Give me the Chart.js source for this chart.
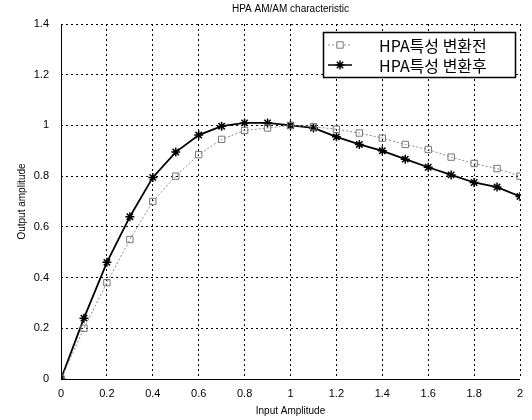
<!DOCTYPE html>
<html>
<head>
<meta charset="utf-8">
<script src="https://cdn.jsdelivr.net/npm/chart.js@4.4.0/dist/chart.umd.min.js"></script>
<style>
  html, body { margin: 0; background: #fff; overflow: hidden; }
  #wrap { width: 532px; height: 420px; }
  canvas { display: block; }
</style>
</head>
<body>
<div id="wrap"><canvas id="Chart1"></canvas></div>
<script>
var inputAmp = [0, 0.1, 0.2, 0.3, 0.4, 0.5, 0.6, 0.7, 0.8, 0.9, 1.0, 1.1, 1.2, 1.3, 1.4, 1.5, 1.6, 1.7, 1.8, 1.9, 2.0];
var beforeComp = [0, 0.20, 0.38, 0.55, 0.70, 0.80, 0.885, 0.945, 0.98, 0.99, 1.0, 0.995, 0.985, 0.97, 0.95, 0.925, 0.905, 0.875, 0.85, 0.83, 0.80];
var afterComp = [0, 0.24, 0.46, 0.64, 0.795, 0.895, 0.962, 0.997, 1.01, 1.01, 1.0, 0.99, 0.955, 0.925, 0.90, 0.867, 0.835, 0.805, 0.775, 0.757, 0.72];
var seriesNames = ['HPA특성 변환전', 'HPA특성 변환후'];
var chartTitle = 'HPA AM/AM characteristic';

function toPoints(ys) {
    return ys.map(function (y, i) { return { x: inputAmp[i], y: y }; });
}

var frameAndLegend = {
    id: 'frameAndLegend',
    afterDraw: function (chart) {
        var ctx = chart.ctx;
        var a = chart.chartArea;
        ctx.save();
        // solid left and bottom axis lines
        ctx.strokeStyle = '#000';
        ctx.lineWidth = 1;
        ctx.setLineDash([]);
        ctx.beginPath();
        ctx.moveTo(Math.round(a.left) + 0.5, a.top);
        ctx.lineTo(Math.round(a.left) + 0.5, Math.round(a.bottom) + 0.5);
        ctx.lineTo(a.right, Math.round(a.bottom) + 0.5);
        ctx.stroke();

        // title
        ctx.fillStyle = '#000';
        ctx.font = '10px "Liberation Sans", Arial, sans-serif';
        ctx.textAlign = 'center';
        ctx.textBaseline = 'middle';
        ctx.fillText(chartTitle, (a.left + a.right) / 2, 9);

        // legend box inside plot
        var bx = 323, by = 32, bw = 192, bh = 45;
        ctx.fillStyle = '#fff';
        ctx.fillRect(bx, by, bw, bh);
        ctx.lineWidth = 1.5;
        ctx.strokeRect(bx + 0.5, by + 0.5, bw, bh);
        var rows = [45, 65];
        chart.data.datasets.forEach(function (ds, i) {
            var y = rows[i];
            ctx.setLineDash(i === 0 ? [2, 2] : []);
            ctx.strokeStyle = ds.borderColor;
            ctx.lineWidth = i === 0 ? 1 : 1.5;
            ctx.beginPath();
            ctx.moveTo(328, y);
            ctx.lineTo(352, y);
            ctx.stroke();
            ctx.setLineDash([]);
            ctx.strokeStyle = ds.pointBorderColor;
            Chart.helpers.drawPoint(ctx, {
                pointStyle: ds.pointStyle,
                radius: ds.pointRadius,
                borderWidth: ds.pointBorderWidth || 1
            }, 340, y);
            ctx.fillStyle = '#000';
            ctx.font = '16px "Noto Sans CJK KR", "Liberation Sans", sans-serif';
            ctx.textAlign = 'left';
            ctx.fillText(ds.label, 379, y + 1);
        });
        ctx.restore();
    }
};

var tickFont = { family: '"Liberation Sans", Arial, sans-serif', size: 11 };
var titleFont = { family: '"Liberation Sans", Arial, sans-serif', size: 10 };

var ctx = document.getElementById('Chart1').getContext('2d');
var Chart1 = new Chart(ctx, {
    type: 'line',
    data: {
        datasets: [{
            label: seriesNames[0],
            data: toPoints(beforeComp),
            borderColor: '#8a8a8a',
            backgroundColor: '#fff',
            borderWidth: 1,
            borderDash: [2, 2],
            pointStyle: 'rect',
            pointRadius: 4.5,
            pointBorderColor: '#777',
            pointBackgroundColor: 'rgba(255,255,255,0)',
            pointBorderWidth: 1,
            tension: 0
        }, {
            label: seriesNames[1],
            data: toPoints(afterComp),
            borderColor: '#000',
            backgroundColor: '#000',
            borderWidth: 1.8,
            pointStyle: 'star',
            pointRadius: 4.5,
            pointBorderColor: '#000',
            pointBorderWidth: 1.5,
            tension: 0
        }]
    },
    options: {
        responsive: true,
        maintainAspectRatio: false,
        animation: false,
        layout: { padding: { top: 24, right: 12, left: 0, bottom: 0 } },
        plugins: {
            legend: { display: false },
            title: { display: false },
            tooltip: { enabled: false }
        },
        scales: {
            x: {
                type: 'linear',
                min: 0,
                max: 2,
                afterFit: function (s) { s.height = 41; },
                grid: { display: true, color: '#000', lineWidth: 1, drawTicks: false },
                border: { display: false, dash: [2, 3] },
                ticks: {
                    stepSize: 0.2,
                    padding: 8,
                    color: '#000',
                    font: tickFont,
                    callback: function (v) { return parseFloat(v.toFixed(1)).toString(); }
                },
                title: {
                    display: true,
                    text: 'Input Amplitude',
                    color: '#000',
                    padding: { top: 0, bottom: 3 },
                    font: titleFont
                }
            },
            y: {
                min: 0,
                max: 1.4,
                afterFit: function (s) { s.width = 61; },
                grid: { display: true, color: '#000', lineWidth: 1, drawTicks: false },
                border: { display: false, dash: [2, 3] },
                ticks: {
                    stepSize: 0.2,
                    padding: 12,
                    color: '#000',
                    font: tickFont,
                    callback: function (v) { return parseFloat(v.toFixed(1)).toString(); }
                },
                title: {
                    display: true,
                    text: 'Output amplitude',
                    color: '#000',
                    padding: { top: 16, bottom: 0 },
                    font: titleFont
                }
            }
        }
    },
    plugins: [frameAndLegend]
});
</script>
</body>
</html>
